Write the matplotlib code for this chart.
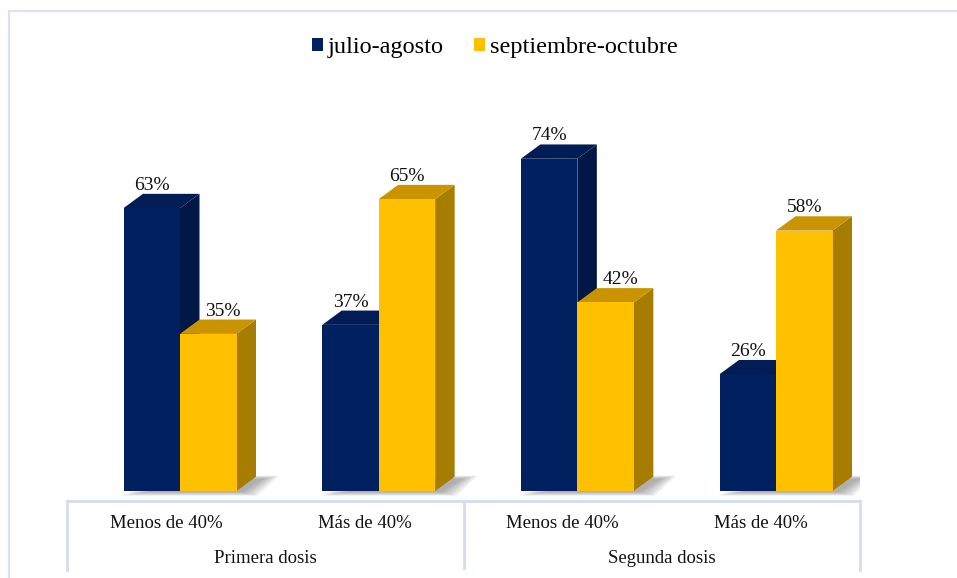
import matplotlib
matplotlib.use('Agg')
import matplotlib.pyplot as plt
from matplotlib.patches import Polygon, Patch
from matplotlib.lines import Line2D

plt.rcParams['font.family'] = ['Liberation Serif', 'DejaVu Serif']

# data
categories = ['Menos de 40%', 'Más de 40%', 'Menos de 40%', 'Más de 40%']
groups = ['Primera dosis', 'Segunda dosis']
series = ['julio-agosto', 'septiembre-octubre']
julio_agosto = [63, 37, 74, 26]
sept_octubre = [35, 65, 42, 58]

# colours: front, top, side
navy = ('#002060', '#021d55', '#011846')
gold = ('#ffc000', '#c99400', '#a67d00')

W, H = 957, 578
fig = plt.figure(figsize=(W / 100, H / 100), dpi=100)

# plot area in pixels
px_left, px_right, px_base, px_top = 67, 860, 491, 100
cat_px = 198.67          # pixels per category
pct_px = 4.49            # pixels per percent
first_center = 180

ax = fig.add_axes([px_left / W, (H - px_base - 3 * pct_px) / H,
                   (px_right - px_left) / W, (px_base - px_top + 3 * pct_px) / H])
x0 = (px_left - first_center) / cat_px
ax.set_xlim(x0, x0 + (px_right - px_left) / cat_px)
ax.set_ylim(-3, (px_base - px_top) / pct_px)
ax.axis('off')

bw = 56.5 / cat_px
dx = 19.5 / cat_px
dy = 14.3 / pct_px
sx = 1 / cat_px   # one pixel in x
sy = 1 / pct_px   # one pixel in y


def shadow(ax, xl, xr):
    # fake soft shadow to the lower right of the bar pair
    for k in range(7):
        g = k * 2.5
        pts = [(xl + (4 - g * 0.4) * sx, (-1 - g * 0.25) * sy),
               (xr + (6 + g) * sx, (-1 - g * 0.25) * sy),
               (xr + dx + (8 + g) * sx, dy - (2 - g * 0.2) * sy),
               (xr + dx * 0.5, dy - (2 - g * 0.2) * sy)]
        ax.add_patch(Polygon(pts, closed=True, facecolor='#606060',
                             edgecolor='none', alpha=0.09, zorder=1))


def bar3d(ax, xc, val, cols, z):
    xl, xr = xc - bw / 2, xc + bw / 2
    ax.bar(xc, val, width=bw, color=cols[0], zorder=z + 0.2)
    top = [(xl, val), (xr, val), (xr + dx, val + dy), (xl + dx, val + dy)]
    side = [(xr, 0), (xr + dx, dy), (xr + dx, val + dy), (xr, val)]
    ax.add_patch(Polygon(top, closed=True, facecolor=cols[1], edgecolor='none', zorder=z + 0.1))
    ax.add_patch(Polygon(side, closed=True, facecolor=cols[2], edgecolor='none', zorder=z))


for i in range(len(categories)):
    xa = i - bw / 2
    xb = i + bw / 2
    shadow(ax, xa - bw / 2, xb + bw / 2)
    bar3d(ax, xa, julio_agosto[i], navy, 2)
    bar3d(ax, xb, sept_octubre[i], gold, 3)
    ax.text(xa, julio_agosto[i] + dy, f'{julio_agosto[i]}%', ha='center',
            va='bottom', fontsize=14, color='#111111', zorder=5)
    # nudge the label right when the taller neighbour would hide it
    shift = dx * 0.75 if sept_octubre[i] < julio_agosto[i] else 0
    ax.text(xb + shift, sept_octubre[i] + dy, f'{sept_octubre[i]}%', ha='center',
            va='bottom', fontsize=14, color='#111111', zorder=5)

# category table below the bars
tb_top, tb_bot = 501, 570
tax = fig.add_axes([px_left / W, (H - tb_bot) / H,
                    (px_right - px_left) / W, (tb_bot - tb_top) / H])
tax.set_xlim(-0.5, len(categories) - 0.5)
tax.set_ylim(0, 1)
tax.set_xticks([])
tax.set_yticks([])
line_col = '#d3ddef'
for s in ['top', 'left', 'right']:
    tax.spines[s].set_color(line_col)
    tax.spines[s].set_linewidth(2)
tax.spines['bottom'].set_visible(False)
tax.axvline(1.5, color=line_col, lw=2)
for i, c in enumerate(categories):
    tax.text(i, 0.68, c, ha='center', va='center', fontsize=13.5, color='#111111')
for j, g in enumerate(groups):
    tax.text(j * 2 + 0.5, 0.17, g, ha='center', va='center', fontsize=13.5,
             color='#111111')

# outer chart border (top and left visible)
fig.add_artist(Line2D([9 / W, 1], [1 - 11 / H, 1 - 11 / H], color='#dae3f3', lw=1.5))
fig.add_artist(Line2D([9 / W, 9 / W], [0, 1 - 11 / H], color='#dae3f3', lw=1.5))

handles = [Patch(facecolor=navy[0]), Patch(facecolor=gold[0])]
fig.legend(handles, series, loc='center', bbox_to_anchor=(495 / W, 1 - 48 / H),
           ncol=2, frameon=False, fontsize=17.5, handlelength=0.45, handleheight=0.45,
           handletextpad=0.2, columnspacing=1.25)

fig.savefig('out.png', dpi=100)
